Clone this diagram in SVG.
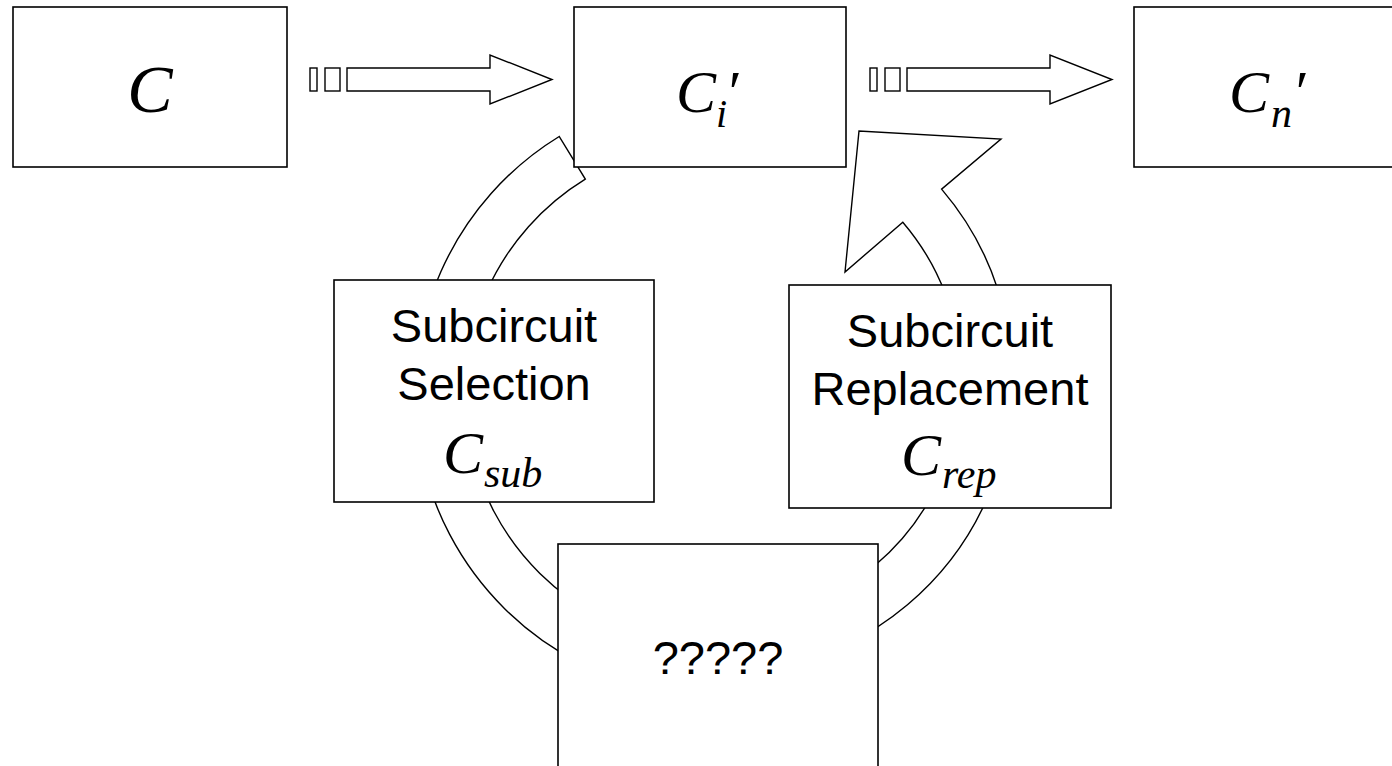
<svg xmlns="http://www.w3.org/2000/svg" width="1392" height="766" viewBox="0 0 1392 766">
<style>
.box{fill:#fff;stroke:#000;stroke-width:1.6}
.conn{fill:#fff;stroke:#000;stroke-width:1.4;stroke-linejoin:miter}
.sans{font-family:"Liberation Sans",Arial,sans-serif;font-size:47px;fill:#000;text-anchor:middle}
.math{font-family:"Liberation Serif","Times New Roman",serif;font-style:italic;fill:#000}
</style>
<rect width="1392" height="766" fill="#fff"/>
<g id="connectors">
  <g id="arrow-c-ci">
    <rect class="conn" x="310" y="68" width="7" height="23"/>
    <rect class="conn" x="325" y="68" width="15" height="23"/>
    <polygon class="conn" points="347,68 490,68 490,55 552,79.5 490,104 490,91 347,91"/>
  </g>
  <g id="arrow-ci-cn">
    <rect class="conn" x="870" y="68" width="7" height="23"/>
    <rect class="conn" x="885" y="68" width="15" height="23"/>
    <polygon class="conn" points="907,68 1050,68 1050,55 1112,79.5 1050,104 1050,91 907,91"/>
  </g>
  <path id="arc-left" class="conn" d="M664.6,691.4 A302,302 0 0 1 559.2,136.5 L585.3,179.1 A252,252 0 0 0 673.2,642.2 Z"/>
  <path id="arc-right" class="conn" d="M760.2,619.3 A243,243 0 0 0 902.8,222.2 L845,272 L859,131 L1001,139 L941.6,189.1 A294,294 0 0 1 769.1,669.5 Z"/>
</g>
<g id="node-c">
  <rect class="box" x="13" y="7" width="274" height="160"/>
  <text class="math" x="150" y="112" font-size="68" text-anchor="middle">C</text>
</g>
<g id="node-ci">
  <rect class="box" x="574" y="7" width="272" height="160"/>
  <text class="math" x="676" y="112" font-size="60">C</text>
  <text class="math" x="716" y="127" font-size="40">i</text>
  <text class="math" x="725" y="112" font-size="60">′</text>
</g>
<g id="node-cn">
  <rect class="box" x="1134" y="7" width="272" height="160"/>
  <text class="math" x="1229" y="112" font-size="60">C</text>
  <text class="math" x="1271" y="127" font-size="42">n</text>
  <text class="math" x="1292" y="112" font-size="60">′</text>
</g>
<g id="node-selection">
  <rect class="box" x="334" y="280" width="320" height="222"/>
  <text class="sans" x="494" y="342">Subcircuit</text>
  <text class="sans" x="494" y="400">Selection</text>
  <text class="math" x="443" y="473" font-size="60">C</text>
  <text class="math" x="484" y="487" font-size="42">sub</text>
</g>
<g id="node-replacement">
  <rect class="box" x="789" y="285" width="322" height="223"/>
  <text class="sans" x="950" y="347">Subcircuit</text>
  <text class="sans" x="950" y="405">Replacement</text>
  <text class="math" x="901" y="475" font-size="60">C</text>
  <text class="math" x="942" y="488" font-size="42">rep</text>
</g>
<g id="node-unknown">
  <rect class="box" x="558" y="544" width="320" height="240"/>
  <text class="sans" x="718" y="674">?????</text>
</g>
</svg>
